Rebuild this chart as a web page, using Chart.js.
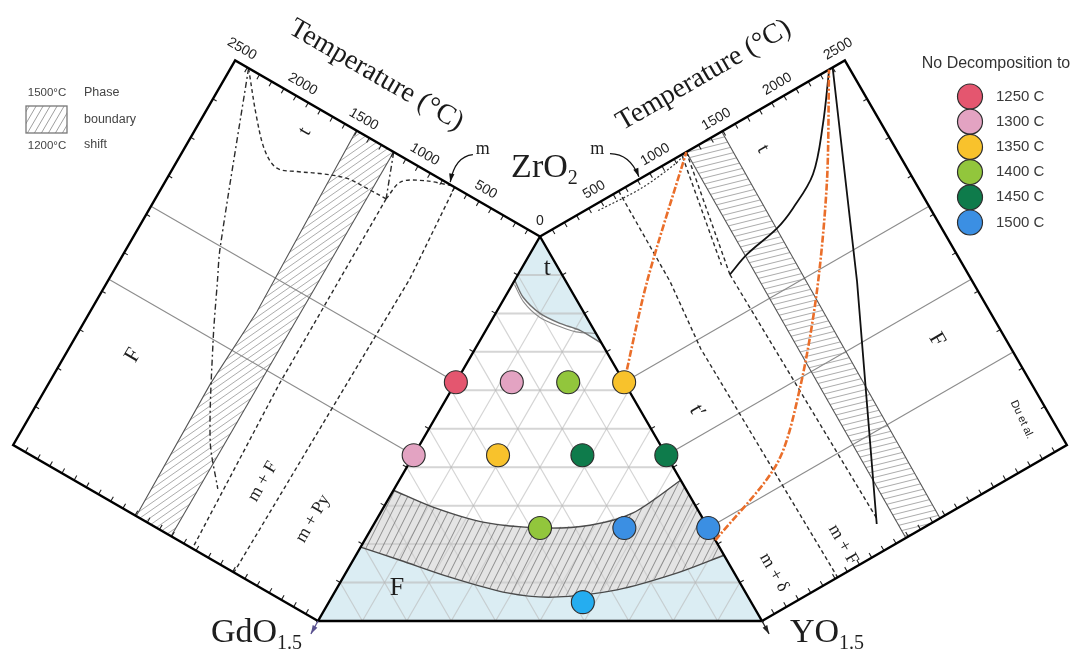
<!DOCTYPE html>
<html>
<head>
<meta charset="utf-8">
<title>ZrO2–GdO1.5–YO1.5 phase stability</title>
<script src="https://cdn.jsdelivr.net/npm/chart.js@4.4.1/dist/chart.umd.min.js"></script>
<style>
  html, body { margin: 0; padding: 0; background: #ffffff; }
  #wrap { width: 1076px; height: 652px; }
</style>
</head>
<body>
<div id="wrap"><canvas id="chart" width="1076" height="652"></canvas></div>
<script>
// ---------- Ternary samples: mole fractions of ZrO2 and YO1.5 (balance GdO1.5)
const sampleZrO2 = [0.621, 0.621, 0.621, 0.621, 0.431, 0.431, 0.431, 0.431, 0.242, 0.242, 0.242, 0.049];
const sampleYO15 = [0.000, 0.126, 0.253, 0.379, 0.000, 0.190, 0.380, 0.569, 0.379, 0.569, 0.758, 0.572];
// highest temperature (°C) reached with no decomposition
const sampleTemp = [1250, 1300, 1400, 1350, 1300, 1350, 1450, 1450, 1400, 1500, 1500, 1500];

const legendTemps = [1250, 1300, 1350, 1400, 1450, 1500];
const tempTicks = [0, 500, 1000, 1500, 2000, 2500];

// ---------- Ternary phase fields (ZrO2 fraction, YO1.5 fraction)
const tArcZr = [0.886, 0.842, 0.800, 0.774, 0.756, 0.722];
const tArcY  = [0.000, 0.041, 0.100, 0.158, 0.212, 0.278];
const tArc2Zr = [0.875, 0.830, 0.790, 0.767, 0.752, 0.748];
const tArc2Y  = [0.005, 0.048, 0.104, 0.158, 0.205, 0.252];
const shiftUpperZr = [0.340, 0.296, 0.257, 0.242, 0.249, 0.281, 0.366];
const shiftUpperY  = [0.000, 0.111, 0.243, 0.379, 0.488, 0.569, 0.634];
const shiftLowerZr = [0.192, 0.158, 0.114, 0.073, 0.062, 0.081, 0.125, 0.171];
const shiftLowerY  = [0.000, 0.106, 0.240, 0.390, 0.498, 0.633, 0.747, 0.829];

// ---------- ZrO2–GdO1.5 section (GdO1.5 fraction, temperature °C)
const gdTBoundX = [0, 0.089, 0.144, 0.163, 0.147, 0.125, 0.104, 0.101, 0.100];
const gdTBoundT = [2390, 2160, 1990, 1860, 1725, 1577, 1393, 1234, 1080];
const gdFBoundX = [0, 0.384, 0.450, 0.573, 0.771, 0.855];
const gdFBoundT = [2390, 1925, 1826, 1638, 1301, 1086];
const gdEutX = [0.100, 0.580, 1.000];
const gdEutT = [1080, 1080, 1030];
const gdPyX = [0, 0.230, 0.500, 1.000];
const gdPyT = [700, 650, 665, 690];
const gdTmX = [0, 0.100];
const gdTmT = [1200, 1080];
const gdMX = [0.100, 0.050, 0.020, 0];
const gdMT = [1080, 1050, 900, 720];
const gdShiftLowX = [0, 1];
const gdShiftLowT = [1200, 1205];
const gdShiftHighX = [0, 0.465, 0.660, 1];
const gdShiftHighT = [1506, 1474, 1504, 1491];
const gdTieX = [0.379, 0.569];

// ---------- ZrO2–YO1.5 section (YO1.5 fraction, temperature °C)
const yTBoundX = [0.005, 0.100, 0.186, 0.230, 0.251, 0.268, 0.288];
const yTBoundT = [2360, 2138, 1900, 1655, 1486, 1209, 1033];
const yFBoundX = [0, 0.445, 0.940];
const yFBoundT = [2400, 1790, 1050];
const yEutX = [0.288, 0.930];
const yEutT = [1033, 1070];
const yDeltaX = [0, 0.234, 0.400, 1.000];
const yDeltaT = [645, 640, 590, 620];
const yTm1X = [0, 0.288];
const yTm1T = [1200, 1033];
const yTm2X = [0.005, 0.260];
const yTm2T = [1160, 1015];
const yMX = [0.015, 0.020, 0.010, 0];
const yMT = [450, 800, 1100, 1200];
const yShiftLowX = [0, 1];
const yShiftLowT = [1200, 1180];
const yShiftHighX = [0, 1];
const yShiftHighT = [1490, 1460];
const yTieX = [0.379, 0.569, 0.758];

// no-decomposition limits carried into the ZrO2–YO1.5 section
const limitLowX = [0.379, 0.208, 0];
const limitLowT = [0, 500, 1200];
const limitHighX = [0.790, 0.710, 0.589, 0.419, 0.216, 0];
const limitHighT = [0, 651, 1059, 1508, 1960, 2370];

// ---------- geometry: triangle of unit side, GdO1.5 at origin
const H = Math.sqrt(3) / 2;
const DEPTH = 0.7928;      // section depth (triangle-side units) at TMAX
const TMAX = 2500;
const XMIN = -318 / 444, XMAX = 758 / 444, YMIN = -31 / 444, YMAX = 621 / 444;
const GAP = {x: null, y: null};

const tern = (zr, yo) => ({x: yo + zr / 2, y: zr * H});
const leftPt = (s, T) => { const d = T / TMAX * DEPTH; return {x: 0.5 - 0.5 * s - H * d, y: H * (1 - s) + 0.5 * d}; };
const rightPt = (s, T) => { const d = T / TMAX * DEPTH; return {x: 0.5 + 0.5 * s + H * d, y: H * (1 - s) + 0.5 * d}; };
const zip = (a, b, fn) => a.map((v, i) => fn(v, b[i]));

const tempColors = {1250: '#e4566f', 1300: '#e3a3c2', 1350: '#f8c22c', 1400: '#92c63c', 1450: '#0e7b4b', 1500: '#3b8fe3'};
const pointColors = sampleTemp.map(t => tempColors[t]);
pointColors[pointColors.length - 1] = '#25adf0';

function makeHatch(w, h, color, lw, bg) {
  const c = document.createElement('canvas');
  c.width = w; c.height = h;
  const g = c.getContext('2d');
  if (bg) { g.fillStyle = bg; g.fillRect(0, 0, w, h); }
  g.strokeStyle = color; g.lineWidth = lw;
  for (let k = -1; k <= 1; k++) {
    g.beginPath(); g.moveTo(k * w - w, 2 * h); g.lineTo(k * w + 2 * w, -h); g.stroke();
  }
  return g.createPattern(c, 'repeat');
}
const hatchTri = makeHatch(8, 16, 'rgba(110,110,110,0.75)', 1, 'rgba(205,205,205,0.55)');
const hatchLeft = makeHatch(10, 7, 'rgba(140,140,140,0.8)', 0.9, null);
const hatchRight = makeHatch(24, 6, 'rgba(140,140,140,0.8)', 0.9, null);
const hatchKey = makeHatch(7, 12, 'rgba(120,120,120,0.8)', 0.9, null);

const datasets = [];
function addLine(points, style) {
  datasets.push(Object.assign({
    data: points, showLine: true, pointRadius: 0, pointHoverRadius: 0,
    borderColor: '#000', borderWidth: 1, fill: false, tension: 0,
    spanGaps: false, clip: false, order: 50
  }, style));
}
function addShape(points, color, order) {
  addLine(points, {fill: 'shape', backgroundColor: color, borderWidth: 0, borderColor: 'rgba(0,0,0,0)', order});
}

// ----- triangle fields
const tArc = zip(tArcZr, tArcY, tern);
addShape([tern(1, 0), ...tArc.slice().reverse()], '#dbedf3', 95);
const lowerArc = zip(shiftLowerZr, shiftLowerY, tern);
const upperArc = zip(shiftUpperZr, shiftUpperY, tern);
addShape([tern(0, 0), ...lowerArc, tern(0, 1)], '#dbedf3', 95);

// composition grid (10 %)
const gH = [], gA = [], gB = [];
for (let k = 1; k < 10; k++) {
  const f = k / 10;
  gH.push(tern(f, 0), tern(f, 1 - f), GAP);
  gA.push(tern(0, f), tern(1 - f, f), GAP);
  gB.push(tern(0, 1 - f), tern(1 - f, 0), GAP);
}
addLine(gH, {borderColor: 'rgba(185,185,185,0.6)', borderWidth: 2, order: 90});
addLine(gA, {borderColor: 'rgba(185,185,185,0.6)', borderWidth: 1.2, order: 90});
addLine(gB, {borderColor: 'rgba(185,185,185,0.6)', borderWidth: 1.2, order: 90});

addShape([...upperArc, ...lowerArc.slice().reverse()], hatchTri, 80);
addLine(upperArc, {borderColor: '#4a4a4a', borderWidth: 1.4, tension: 0.3, order: 60});
addLine(lowerArc, {borderColor: '#4a4a4a', borderWidth: 1.4, tension: 0.3, order: 60});
addLine(tArc, {borderColor: '#707070', borderWidth: 1.4, tension: 0.3, order: 60});
addLine(zip(tArc2Zr, tArc2Y, tern), {borderColor: '#8a8a8a', borderWidth: 1.1, tension: 0.3, order: 60});

// ----- binary sections
const dashed = {borderColor: '#2b2b2b', borderWidth: 1.4, borderDash: [4, 3], order: 55};
const dashDot = {borderColor: '#2b2b2b', borderWidth: 1.4, borderDash: [6, 3, 2, 3], order: 55};
const solid = {borderColor: '#111', borderWidth: 1.8, order: 55};
const thinGrey = {borderColor: '#8c8c8c', borderWidth: 1.1, order: 70};
const bandEdge = {borderColor: '#555', borderWidth: 1.1, order: 60};

// left: ZrO2–GdO1.5
const gdLow = zip(gdShiftLowX, gdShiftLowT, leftPt);
const gdHigh = zip(gdShiftHighX, gdShiftHighT, leftPt);
addShape([...gdLow, ...gdHigh.slice().reverse()], hatchLeft, 85);
addLine(gdLow, bandEdge);
addLine(gdHigh, bandEdge);
gdTieX.forEach(s => addLine([leftPt(s, 0), leftPt(s, TMAX)], thinGrey));
addLine(zip(gdTBoundX, gdTBoundT, leftPt), Object.assign({tension: 0.35}, dashed));
addLine(zip(gdFBoundX, gdFBoundT, leftPt), Object.assign({tension: 0.3}, dashDot));
addLine(zip(gdEutX, gdEutT, leftPt), dashed);
addLine(zip(gdPyX, gdPyT, leftPt), dashed);
addLine(zip(gdTmX, gdTmT, leftPt), dashDot);
addLine(zip(gdMX, gdMT, leftPt), Object.assign({tension: 0.3}, dashed));

// right: ZrO2–YO1.5
const yLow = zip(yShiftLowX, yShiftLowT, rightPt);
const yHigh = zip(yShiftHighX, yShiftHighT, rightPt);
addShape([...yLow, ...yHigh.slice().reverse()], hatchRight, 85);
addLine(yLow, bandEdge);
addLine(yHigh, bandEdge);
yTieX.forEach(s => addLine([rightPt(s, 0), rightPt(s, TMAX)], thinGrey));
addLine(zip(yTBoundX, yTBoundT, rightPt), Object.assign({tension: 0.35}, solid));
addLine(zip(yFBoundX, yFBoundT, rightPt), solid);
addLine(zip(yEutX, yEutT, rightPt), dashed);
addLine(zip(yDeltaX, yDeltaT, rightPt), dashed);
addLine(zip(yTm1X, yTm1T, rightPt), dashed);
addLine(zip(yTm2X, yTm2T, rightPt), dashed);
addLine(zip(yMX, yMT, rightPt), Object.assign({tension: 0.3, borderDash: [2, 2]}, {borderColor: '#333', borderWidth: 1.2, order: 55}));

// no-decomposition limits
const orange = {borderColor: '#ea6e2a', borderWidth: 2.6, borderDash: [7, 2, 2, 2], tension: 0.3, order: 30};
addLine(zip(limitLowX, limitLowT, rightPt), orange);
addLine(zip(limitHighX, limitHighT, rightPt), orange);

// ticks on both sections
function ticks(fn) {
  const pts = [];
  for (let T = 100; T < TMAX; T += 100) pts.push(fn(0, T), fn(0.012, T), GAP, fn(1, T), fn(0.988, T), GAP);
  for (let k = 1; k < 10; k++) { const s = k / 10; pts.push(fn(s, TMAX), fn(s, TMAX - 30), GAP, fn(s, 0), fn(s, 32), GAP); }
  return pts;
}
addLine(ticks(leftPt), {borderColor: '#222', borderWidth: 1.1, order: 45});
addLine(ticks(rightPt), {borderColor: '#222', borderWidth: 1.1, order: 45});

// outlines
const frame = {borderColor: '#000', borderWidth: 2.4, order: 40};
addLine([leftPt(0, 0), leftPt(0, TMAX), leftPt(1, TMAX), leftPt(1, 0)], frame);
addLine([rightPt(0, 0), rightPt(0, TMAX), rightPt(1, TMAX), rightPt(1, 0)], frame);
addLine([tern(1, 0), tern(0, 0), tern(0, 1), tern(1, 0)], frame);

// samples
datasets.push({
  data: zip(sampleZrO2, sampleYO15, tern), showLine: false,
  pointRadius: 11.5, pointHoverRadius: 11.5,
  pointBackgroundColor: pointColors, pointBorderColor: '#2e2e2e', pointBorderWidth: 1.1,
  clip: false, order: 0
});

// ---------- text and keys
const SERIF = '"Liberation Serif", "DejaVu Serif", serif';
const SANS = '"Liberation Sans", Arial, sans-serif';

function text(ctx, s, x, y, font, color, rot, align, base) {
  ctx.save();
  ctx.translate(x, y);
  if (rot) ctx.rotate(rot * Math.PI / 180);
  ctx.font = font; ctx.fillStyle = color || '#222';
  ctx.textAlign = align || 'center'; ctx.textBaseline = base || 'middle';
  ctx.fillText(s, 0, 0);
  ctx.restore();
}
function formula(ctx, parts, x, y, size, align) {
  ctx.save();
  const big = size + 'px ' + SERIF, small = Math.round(size * 0.6) + 'px ' + SERIF;
  let w = 0;
  parts.forEach(([t, sub]) => { ctx.font = sub ? small : big; w += ctx.measureText(t).width; });
  let cx = align === 'right' ? x - w : align === 'left' ? x : x - w / 2;
  ctx.textAlign = 'left'; ctx.textBaseline = 'alphabetic'; ctx.fillStyle = '#1e1e1e';
  parts.forEach(([t, sub]) => {
    ctx.font = sub ? small : big;
    ctx.fillText(t, cx, sub ? y + size * 0.22 : y);
    cx += ctx.measureText(t).width;
  });
  ctx.restore();
}
function arrow(ctx, a, c, b, color) {
  ctx.save();
  ctx.strokeStyle = color; ctx.fillStyle = color; ctx.lineWidth = 1.3;
  ctx.beginPath(); ctx.moveTo(a[0], a[1]); ctx.quadraticCurveTo(c[0], c[1], b[0], b[1]); ctx.stroke();
  const ang = Math.atan2(b[1] - c[1], b[0] - c[0]);
  ctx.beginPath();
  ctx.moveTo(b[0], b[1]);
  ctx.lineTo(b[0] - 9 * Math.cos(ang - 0.3), b[1] - 9 * Math.sin(ang - 0.3));
  ctx.lineTo(b[0] - 9 * Math.cos(ang + 0.3), b[1] - 9 * Math.sin(ang + 0.3));
  ctx.closePath(); ctx.fill();
  ctx.restore();
}

const annotate = {
  id: 'annotate',
  afterDatasetsDraw(chart) {
    const ctx = chart.ctx, sx = chart.scales.x, sy = chart.scales.y, area = chart.chartArea;
    const P = p => [sx.getPixelForValue(p.x), sy.getPixelForValue(p.y)];

    // temperature scales
    tempTicks.forEach(T => {
      if (T === 0) {
        const q = P(tern(1, 0));
        text(ctx, '0', q[0], q[1] - 15, '14px ' + SANS, '#222');
        return;
      }
      let q = P(leftPt(-0.03, T));
      text(ctx, String(T), q[0], q[1], '14px ' + SANS, '#222', 30);
      q = P(rightPt(-0.03, T));
      text(ctx, String(T), q[0], q[1], '14px ' + SANS, '#222', -30);
    });
    let q = P(leftPt(-0.13, 1580));
    text(ctx, 'Temperature (°C)', q[0], q[1], '28px ' + SERIF, '#1a1a1a', 30);
    q = P(rightPt(-0.13, 1580));
    text(ctx, 'Temperature (°C)', q[0], q[1], '28px ' + SERIF, '#1a1a1a', -30);

    // phase labels, ZrO2–GdO1.5
    const lab = (p, s, size, rot, font) => { const r = P(p); text(ctx, s, r[0], r[1], size + 'px ' + (font || SERIF), '#1e1e1e', rot); };
    lab(leftPt(0.69, 2080), 'F', 22, -60);
    lab(leftPt(0.06, 1820), 't', 20, -60);
    lab(leftPt(0.79, 834), 'm + F', 18, -60);
    lab(leftPt(0.806, 395), 'm + Py', 18, -60);
    // ZrO2–YO1.5
    lab(rightPt(0.648, 2075), 'F', 22, 60);
    lab(rightPt(0.08, 1683), 't', 20, 60);
    lab(rightPt(0.518, 344), 't\u2032', 22, 60);
    lab(rightPt(0.942, 770), 'm + F', 18, 60);
    lab(rightPt(0.919, 246), 'm + \u03b4', 18, 60);
    lab(rightPt(0.9, 2314), 'Du et al.', 11, 65, SANS);
    // ternary fields
    lab(tern(0.918, 0.057), 't', 25, 0);
    lab(tern(0.086, 0.135), 'F', 26, 0);

    // monoclinic markers
    lab(leftPt(-0.105, 660), 'm', 18, 0);
    lab(rightPt(-0.105, 660), 'm', 18, 0);
    arrow(ctx, P(leftPt(-0.084, 703)), P(leftPt(-0.06, 807)), P(leftPt(-0.005, 745)), '#111');
    arrow(ctx, P(rightPt(-0.083, 725)), P(rightPt(-0.06, 848)), P(rightPt(-0.005, 820)), '#111');

    // corner arrows
    const g0 = P(tern(0, 0)), g1 = P({x: -0.016, y: -0.029});
    arrow(ctx, g0, [(g0[0] + g1[0]) / 2, (g0[1] + g1[1]) / 2], g1, '#5a5290');
    const y0 = P(tern(0, 1)), y1 = P({x: 1.016, y: -0.029});
    arrow(ctx, y0, [(y0[0] + y1[0]) / 2, (y0[1] + y1[1]) / 2], y1, '#222');

    // component names
    q = P({x: 0.51, y: 1.0});
    formula(ctx, [['ZrO', false], ['2', true]], q[0], q[1], 34, 'center');
    q = P({x: -0.036, y: -0.047});
    formula(ctx, [['GdO', false], ['1.5', true]], q[0], q[1], 34, 'right');
    q = P({x: 1.063, y: -0.047});
    formula(ctx, [['YO', false], ['1.5', true]], q[0], q[1], 34, 'left');

    // key: no decomposition temperatures
    const kx = area.right - 106, ky = area.top + 64;
    text(ctx, 'No Decomposition to', kx + 26, ky, '16px ' + SANS, '#333');
    legendTemps.forEach((t, i) => {
      const cy = ky + 32.5 + i * 25.2;
      ctx.save();
      ctx.beginPath(); ctx.arc(kx, cy, 12.5, 0, Math.PI * 2);
      ctx.fillStyle = tempColors[t]; ctx.fill();
      ctx.lineWidth = 1.2; ctx.strokeStyle = '#2e2e2e'; ctx.stroke();
      ctx.restore();
      text(ctx, t + ' C', kx + 26, cy, '15px ' + SANS, '#3a3a3a', 0, 'left');
    });

    // key: phase boundary shift
    const bx = area.left + 26, by = area.top + 106;
    ctx.save();
    ctx.fillStyle = hatchKey; ctx.fillRect(bx, by, 41, 27);
    ctx.strokeStyle = '#777'; ctx.lineWidth = 1.3; ctx.strokeRect(bx, by, 41, 27);
    ctx.restore();
    text(ctx, '1500°C', bx + 21, by - 13, '11.5px ' + SANS, '#444');
    text(ctx, '1200°C', bx + 21, by + 40, '11.5px ' + SANS, '#444');
    text(ctx, 'Phase', bx + 58, by - 13, '12.5px ' + SANS, '#444', 0, 'left');
    text(ctx, 'boundary', bx + 58, by + 14, '12.5px ' + SANS, '#444', 0, 'left');
    text(ctx, 'shift', bx + 58, by + 39, '12.5px ' + SANS, '#444', 0, 'left');
  }
};

new Chart(document.getElementById('chart'), {
  type: 'line',
  data: {datasets},
  options: {
    responsive: false,
    animation: false,
    events: [],
    layout: {padding: 0, autoPadding: false},
    plugins: {legend: {display: false}, tooltip: {enabled: false}},
    scales: {
      x: {type: 'linear', min: XMIN, max: XMAX, display: false},
      y: {type: 'linear', min: YMIN, max: YMAX, display: false}
    }
  },
  plugins: [annotate]
});
</script>
</body>
</html>
